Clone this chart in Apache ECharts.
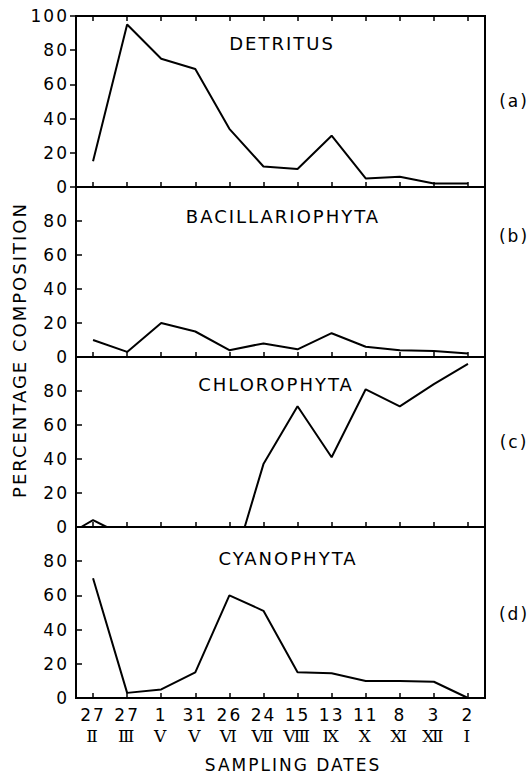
<!DOCTYPE html>
<html>
<head>
<meta charset="utf-8">
<script src="https://cdn.jsdelivr.net/npm/echarts@6/dist/echarts.min.js"></script>
<style>
html,body{margin:0;padding:0;background:#fff;}
#chart{width:530px;height:777px;}
#chart svg text{letter-spacing:2px;}
</style>
</head>
<body>
<div id="chart"></div>
<script>
// ---- data ----
const dates = ['27','27','1','31','26','24','15','13','11','8','3','2'];
const months = ['Ⅱ','Ⅲ','Ⅴ','Ⅴ','Ⅵ','Ⅶ','Ⅷ','Ⅸ','Ⅹ','Ⅺ','Ⅻ','Ⅰ'];
const detritus = [15, 95, 75, 69, 34, 12, 10.5, 30, 5, 6, 2, 2];
const bacillariophyta = [10, 3, 20, 15, 4, 8, 4.5, 14, 6, 4, 3.5, 2];
const chlorophytaX = [-0.35, 0, 0.4, 4.45, 5, 6, 7, 8, 9, 10, 11];
const chlorophytaY = [0, 4, 0, 0, 37, 71, 41, 81, 71, 84, 96];
const cyanophyta = [70, 3, 5, 15, 60, 51, 15, 14.5, 10, 10, 9.5, 0];
const panelTitles = ['DETRITUS', 'BACILLARIOPHYTA', 'CHLOROPHYTA', 'CYANOPHYTA'];
const panelTags = ['(a)', '(b)', '(c)', '(d)'];
const yLabel = 'PERCENTAGE COMPOSITION';
const xLabel = 'SAMPLING DATES';

// ---- layout ----
const FONT = 'DejaVu Sans';
const grids = [
  {top: 16, height: 171},
  {top: 187, height: 170},
  {top: 357, height: 170},
  {top: 527, height: 171}
];
const titlePos = [[282, 43], [283, 216], [276, 384], [288, 558]];
const tagPos = [[514, 101], [514, 236], [514, 442], [514, 614]];

const chart = echarts.init(document.getElementById('chart'), null, {renderer: 'svg'});

const gridOpts = grids.map(g => ({
  left: 76, right: 45, top: g.top, height: g.height,
  show: true, borderColor: '#000', borderWidth: 2, backgroundColor: 'transparent'
}));

const xAxes = [];
const yAxes = [];
grids.forEach((g, i) => {
  xAxes.push({
    type: 'category', gridIndex: i, data: dates, boundaryGap: true, position: 'bottom',
    axisLine: {show: true, onZero: false, lineStyle: {color: '#000', width: 2}},
    axisTick: {show: true, inside: true, alignWithLabel: true, length: 5, lineStyle: {color: '#000', width: 1.5}},
    axisLabel: {
      show: i === 3, interval: 0, margin: 7,
      formatter: (v, idx) => '{d|' + dates[idx] + '}\n{r|' + months[idx] + '}',
      rich: {
        d: {fontFamily: FONT, fontSize: 17, color: '#000', lineHeight: 20},
        r: {fontFamily: 'DejaVu Serif', fontSize: 17, color: '#000', lineHeight: 22}
      }
    },
    splitLine: {show: false}
  });
  yAxes.push({
    type: 'value', gridIndex: i, min: 0, max: 100, interval: 20,
    axisLine: {show: true, onZero: false, lineStyle: {color: '#000', width: 2}},
    axisTick: {show: true, inside: i > 0, length: 6, lineStyle: {color: '#000', width: 1.5}},
    axisLabel: {
      fontFamily: FONT, fontSize: 17, color: '#000', margin: 7,
      formatter: v => (i > 0 && v === 100) ? '' : String(v)
    },
    splitLine: {show: false}
  });
});
// top ticks for panel (a)
xAxes.push({
  type: 'category', gridIndex: 0, data: dates, boundaryGap: true, position: 'top',
  axisLine: {show: true, onZero: false, lineStyle: {color: '#000', width: 2}},
  axisTick: {show: true, inside: true, alignWithLabel: true, length: 5, lineStyle: {color: '#000', width: 1.5}},
  axisLabel: {show: false}, splitLine: {show: false}
});
// hidden value axis for chlorophyta trace
xAxes.push({type: 'value', gridIndex: 2, min: -0.5, max: 11.5, show: false, splitLine: {show: false}});

const lineStyle = {color: '#000', width: 2};
const series = [
  {type: 'line', xAxisIndex: 0, yAxisIndex: 0, data: detritus, symbol: 'none', lineStyle},
  {type: 'line', xAxisIndex: 1, yAxisIndex: 1, data: bacillariophyta, symbol: 'none', lineStyle},
  {type: 'line', xAxisIndex: 5, yAxisIndex: 2, data: chlorophytaX.map((x, k) => [x, chlorophytaY[k]]), symbol: 'none', lineStyle},
  {type: 'line', xAxisIndex: 3, yAxisIndex: 3, data: cyanophyta, symbol: 'none', lineStyle}
];

const graphics = [];
panelTitles.forEach((t, i) => {
  graphics.push({type: 'text', x: titlePos[i][0], y: titlePos[i][1],
    style: {text: t, fontFamily: FONT, fontSize: 18, fill: '#000', textAlign: 'center', textVerticalAlign: 'middle'}});
  graphics.push({type: 'text', x: tagPos[i][0], y: tagPos[i][1],
    style: {text: panelTags[i], fontFamily: FONT, fontSize: 17, fill: '#000', textAlign: 'center', textVerticalAlign: 'middle'}});
});
graphics.push({type: 'text', x: 19, y: 350, rotation: Math.PI / 2,
  style: {text: yLabel, fontFamily: FONT, fontSize: 18, fill: '#000', textAlign: 'center', textVerticalAlign: 'middle'}});
graphics.push({type: 'text', x: 293, y: 765,
  style: {text: xLabel, fontFamily: FONT, fontSize: 17, fill: '#000', textAlign: 'center', textVerticalAlign: 'middle'}});

chart.setOption({
  backgroundColor: '#fff',
  animation: false,
  grid: gridOpts,
  xAxis: xAxes,
  yAxis: yAxes,
  series: series,
  graphic: graphics
});
</script>
</body>
</html>
